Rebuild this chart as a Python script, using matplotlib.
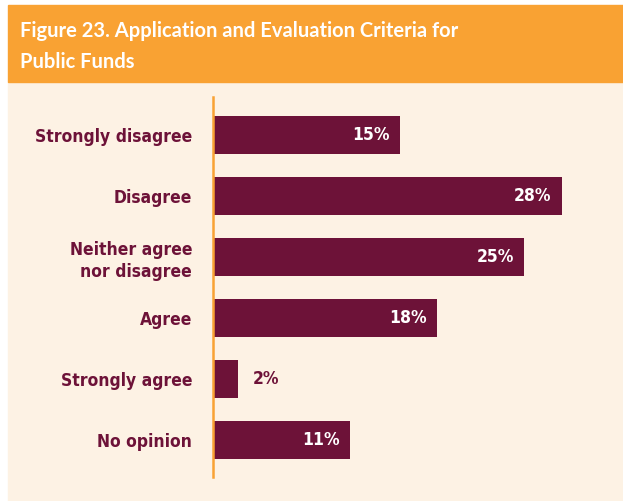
import matplotlib.pyplot as plt
from matplotlib.patches import Rectangle
import numpy as np

categories = ['Strongly disagree', 'Disagree', 'Neither agree\nnor disagree',
              'Agree', 'Strongly agree', 'No opinion']
values = [15, 28, 25, 18, 2, 11]
title_lines = ['Figure 23. Application and Evaluation Criteria for', 'Public Funds']

bar_color = '#6d1238'
orange = '#f9a233'
cream = '#fdf2e4'
label_kw = dict(family='DejaVu Sans', stretch='condensed', fontweight='bold', fontsize=12.5)

W, H = 623, 501
fig = plt.figure(figsize=(W / 100, H / 100), dpi=100)
fig.patch.set_facecolor('white')

# cream panel and orange header band (pixel positions from top-left)
fig.patches.append(Rectangle((8 / W, 0), 1 - 8 / W, (H - 82) / H,
                             transform=fig.transFigure, color=cream, zorder=-5))
fig.patches.append(Rectangle((8 / W, (H - 82) / H), 1 - 8 / W, 77 / H,
                             transform=fig.transFigure, color=orange, zorder=-5))
for i, line in enumerate(title_lines):
    fig.text(20 / W, 1 - (37 + 31 * i) / H, line, color='white', fontsize=14.5,
             fontweight='bold', family='Lato', va='baseline', ha='left')

px_per_pct = 12.45
left, right = 213, 213 + 30 * px_per_pct
top, bottom = 97, 477
ax = fig.add_axes([left / W, 1 - bottom / H, (right - left) / W, (bottom - top) / H])
ax.set_facecolor('none')

y = np.arange(len(categories))
ax.barh(y, values, height=38 / 61, color=bar_color, zorder=2)
ax.set_xlim(0, 30)
ax.set_ylim(5 + 37 / 61, -38 / 61)

for spine in ['top', 'right', 'bottom']:
    ax.spines[spine].set_visible(False)
ax.spines['left'].set_color(orange)
ax.spines['left'].set_linewidth(1.8)
ax.set_xticks([])
ax.set_yticks(y)
ax.set_yticklabels(categories, color=bar_color, linespacing=1.3, **label_kw)
ax.tick_params(axis='y', length=0, pad=15)

for yi, v in zip(y, values):
    if v >= 5:
        ax.text(v - 10 / px_per_pct, yi, f'{v}%', ha='right', va='center', color='white', **label_kw)
    else:
        ax.text(v + 15 / px_per_pct, yi, f'{v}%', ha='left', va='center', color=bar_color, **label_kw)

plt.savefig('out.png', dpi=100, facecolor=fig.get_facecolor())
